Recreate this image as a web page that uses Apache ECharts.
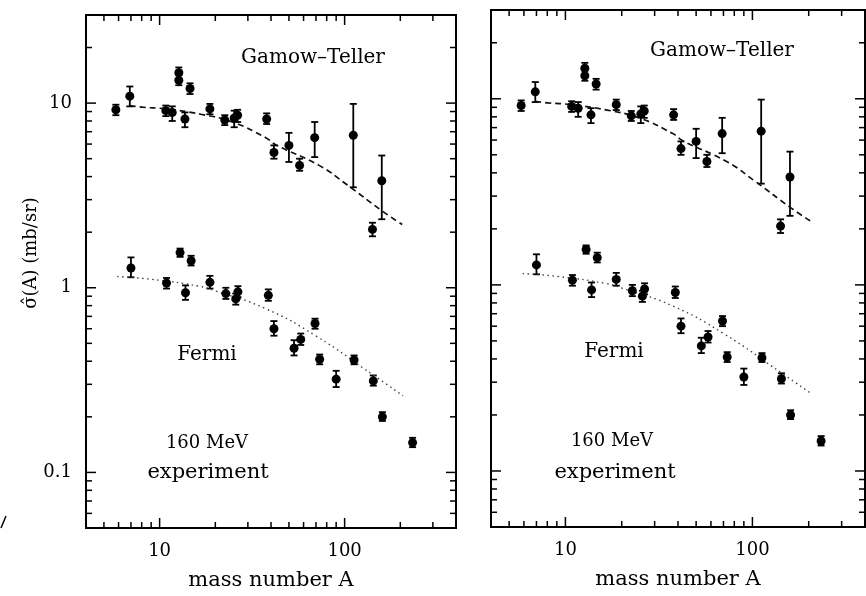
<!DOCTYPE html>
<html>
<head>
<meta charset="utf-8">
<script src="https://cdn.jsdelivr.net/npm/echarts@6/dist/echarts.min.js"></script>
<style>
html,body{margin:0;padding:0;background:#fff;}
#chart{width:866px;height:596px;}
</style>
</head>
<body>
<div id="chart"></div>
<script>
// ---------- data ----------
// Gamow-Teller points: mass number A, sigma, error low, error high
const gtA     = [5.8, 6.9, 10.8, 11.7, 12.7, 12.7, 14.6, 13.7, 18.7, 22.5, 25.3, 26.4, 37.9, 41.5, 50.0, 57.1, 68.9, 111.4, 158.8, 141.4];
const gtSigma = [9.2, 10.9, 9.1, 8.9, 14.6, 13.3, 12.0, 8.2, 9.3, 8.1, 8.3, 8.6, 8.2, 5.4, 5.9, 4.6, 6.5, 6.7, 3.8, 2.07];
const gtLow   = [8.6, 9.6, 8.5, 8.0, 13.5, 12.5, 11.2, 7.4, 8.7, 7.6, 7.4, 7.9, 7.7, 5.0, 4.8, 4.3, 5.1, 3.5, 2.35, 1.9];
const gtHigh  = [9.8, 12.3, 9.7, 9.6, 15.6, 14.2, 12.8, 8.9, 9.9, 8.6, 9.1, 9.2, 8.8, 5.9, 6.9, 5.0, 7.9, 9.9, 5.2, 2.25];

// Fermi points
const fA      = [7.0, 10.9, 12.9, 14.8, 13.8, 18.7, 22.8, 25.8, 26.5, 38.7, 41.5, 53.3, 57.9, 69.2, 73.3, 90.0, 112.5, 142.9, 160, 233];
const fSigma  = [1.28, 1.06, 1.55, 1.40, 0.94, 1.07, 0.93, 0.87, 0.95, 0.91, 0.60, 0.47, 0.525, 0.64, 0.41, 0.32, 0.406, 0.313, 0.200, 0.145];
const fLow    = [1.14, 0.99, 1.47, 1.32, 0.86, 0.99, 0.87, 0.81, 0.89, 0.85, 0.55, 0.43, 0.49, 0.60, 0.385, 0.29, 0.385, 0.295, 0.19, 0.137];
const fHigh   = [1.46, 1.13, 1.63, 1.49, 1.03, 1.16, 1.00, 0.93, 1.02, 0.98, 0.66, 0.52, 0.565, 0.68, 0.435, 0.355, 0.43, 0.335, 0.212, 0.154];

// model curves
const gtCurveA     = [6.9, 8.1, 10.8, 16.7, 24.7, 37.5, 42.4, 72.8, 103.5, 160, 205];
const gtCurveSigma = [9.7, 9.5, 9.3, 8.7, 7.9, 6.5, 5.95, 4.6, 3.6, 2.6, 2.2];
const fCurveA      = [5.9, 9.1, 16.3, 20.1, 37.5, 69.6, 147, 207];
const fCurveSigma  = [1.15, 1.11, 1.02, 0.96, 0.77, 0.55, 0.33, 0.26];

// ticks
const xMajorTicks = [10, 100];
const xTickLabels = ['10', '100'];
const xMinorTicks = [5, 6, 7, 8, 9, 20, 30, 40, 50, 60, 70, 80, 90, 200, 300];
const yMajorTicks = [0.1, 1, 10];
const yTickLabels = ['0.1', '1', '10'];
const yMinorTicks = [0.06, 0.07, 0.08, 0.09, 0.2, 0.3, 0.4, 0.5, 0.6, 0.7, 0.8, 0.9, 2, 3, 4, 5, 6, 7, 8, 9, 20];

// ---------- chart ----------
const X_MIN = 4, X_MAX = 400, Y_MIN = 0.05, Y_MAX = 30;
const FONT = '"DejaVu Serif", serif';
const INK = '#000';

function zip(a, b, c, d) { return a.map((v, i) => d ? [v, b[i], c[i], d[i]] : [v, b[i]]); }

function labelFor(v, ticks, labels) {
  for (let i = 0; i < ticks.length; i++) {
    if (Math.abs(Math.log10(v) - Math.log10(ticks[i])) < 1e-6) return labels[i];
  }
  return '';
}

function errRender(params, api) {
  const x = api.value(0), lo = api.value(2), hi = api.value(3);
  const p1 = api.coord([x, lo]), p2 = api.coord([x, hi]);
  const cap = 3.5;
  const st = { stroke: INK, lineWidth: 1.8 };
  return { type: 'group', children: [
    { type: 'line', shape: { x1: p1[0], y1: p1[1], x2: p2[0], y2: p2[1] }, style: st },
    { type: 'line', shape: { x1: p1[0] - cap, y1: p1[1], x2: p1[0] + cap, y2: p1[1] }, style: st },
    { type: 'line', shape: { x1: p2[0] - cap, y1: p2[1], x2: p2[0] + cap, y2: p2[1] }, style: st }
  ]};
}

function tickRender(params, api) {
  const v = api.value(0), k = api.value(1);
  const major = (k === 0 || k === 2);
  const len = major ? 10 : 6;
  const st = { stroke: INK, lineWidth: 1.5 };
  let a, b;
  if (k < 2) {
    a = api.coord([v, Y_MIN]); b = api.coord([v, Y_MAX]);
    return { type: 'group', children: [
      { type: 'line', shape: { x1: a[0], y1: a[1], x2: a[0], y2: a[1] - len }, style: st },
      { type: 'line', shape: { x1: b[0], y1: b[1], x2: b[0], y2: b[1] + len }, style: st }
    ]};
  } else {
    a = api.coord([X_MIN, v]); b = api.coord([X_MAX, v]);
    return { type: 'group', children: [
      { type: 'line', shape: { x1: a[0], y1: a[1], x2: a[0] + len, y2: a[1] }, style: st },
      { type: 'line', shape: { x1: b[0], y1: b[1], x2: b[0] - len, y2: b[1] }, style: st }
    ]};
  }
}

function tickData() {
  const d = [];
  xMajorTicks.forEach(v => d.push([v, 0]));
  xMinorTicks.forEach(v => d.push([v, 1]));
  yMajorTicks.forEach(v => d.push([v, 2]));
  yMinorTicks.forEach(v => d.push([v, 3]));
  return d;
}

function panelSeries(gi) {
  return [
    { type: 'custom', xAxisIndex: gi, yAxisIndex: gi, silent: true, clip: false,
      data: tickData(), encode: { x: 0, y: 0 }, renderItem: tickRender, z: 5 },
    { type: 'line', xAxisIndex: gi, yAxisIndex: gi, data: zip(gtCurveA, gtCurveSigma),
      showSymbol: false, smooth: true, silent: true,
      lineStyle: { color: '#111', width: 1.7, type: [6, 4] } },
    { type: 'line', xAxisIndex: gi, yAxisIndex: gi, data: zip(fCurveA, fCurveSigma),
      showSymbol: false, smooth: true, silent: true,
      lineStyle: { color: '#444', width: 1.4, type: [1.5, 3.5] } },
    { type: 'custom', xAxisIndex: gi, yAxisIndex: gi, silent: true,
      data: zip(gtA, gtSigma, gtLow, gtHigh), encode: { x: 0, y: 1 }, renderItem: errRender, z: 3 },
    { type: 'custom', xAxisIndex: gi, yAxisIndex: gi, silent: true,
      data: zip(fA, fSigma, fLow, fHigh), encode: { x: 0, y: 1 }, renderItem: errRender, z: 3 },
    { type: 'scatter', xAxisIndex: gi, yAxisIndex: gi, data: zip(gtA, gtSigma), symbol: 'circle',
      symbolSize: 9, itemStyle: { color: INK, opacity: 1 }, silent: true, z: 4 },
    { type: 'scatter', xAxisIndex: gi, yAxisIndex: gi, data: zip(fA, fSigma), symbol: 'circle',
      symbolSize: 9, itemStyle: { color: INK, opacity: 1 }, silent: true, z: 4 }
  ];
}

function xAxisCfg(gi) {
  return {
    type: 'log', logBase: 10, gridIndex: gi, min: X_MIN, max: X_MAX,
    axisLine: { show: false }, axisTick: { show: false }, splitLine: { show: false },
    axisLabel: { margin: 14, fontFamily: FONT, fontSize: 18, color: INK,
      showMinLabel: false, showMaxLabel: false,
      formatter: v => labelFor(v, xMajorTicks, xTickLabels) },
    name: 'mass number A', nameLocation: 'middle', nameGap: 42,
    nameTextStyle: { fontFamily: FONT, fontSize: 21, color: INK }
  };
}

function yAxisCfg(gi, showLabels) {
  return {
    type: 'log', logBase: 10, gridIndex: gi, min: Y_MIN, max: Y_MAX,
    axisLine: { show: false }, axisTick: { show: false }, splitLine: { show: false },
    axisLabel: { show: showLabels, margin: 14, fontFamily: FONT, fontSize: 18, color: INK,
      showMinLabel: false, showMaxLabel: false,
      formatter: v => labelFor(v, yMajorTicks, yTickLabels) }
  };
}

function txt(x, y, s, size) {
  return { type: 'text', x: x, y: y, style: { text: s, fontFamily: FONT, fontSize: size || 20,
    fill: INK, align: 'center', verticalAlign: 'middle' }, silent: true };
}

const option = {
  backgroundColor: '#fff',
  animation: false,
  grid: [
    { left: 86, top: 15, width: 370, height: 513, show: true, borderColor: INK, borderWidth: 2, backgroundColor: 'transparent' },
    { left: 491, top: 10, width: 374, height: 517, show: true, borderColor: INK, borderWidth: 2, backgroundColor: 'transparent' }
  ],
  xAxis: [xAxisCfg(0), xAxisCfg(1)],
  yAxis: [yAxisCfg(0, true), yAxisCfg(1, false)],
  series: panelSeries(0).concat(panelSeries(1)),
  graphic: [
    txt(313, 58, 'Gamow–Teller', 20),
    txt(207, 355, 'Fermi', 20),
    txt(207, 443, '160 MeV', 18),
    txt(208, 473, 'experiment', 21),
    txt(722, 51, 'Gamow–Teller', 20),
    txt(614, 352, 'Fermi', 20),
    txt(612, 441, '160 MeV', 18),
    txt(615, 473, 'experiment', 21),
    { type: 'text', x: 31, y: 253, rotation: Math.PI / 2,
      style: { text: 'σ̂(A) (mb/sr)', fontFamily: FONT, fontSize: 18, fill: INK,
        align: 'center', verticalAlign: 'middle' }, silent: true },
    { type: 'line', shape: { x1: 1, y1: 528, x2: 6, y2: 516 }, style: { stroke: INK, lineWidth: 1.5 }, silent: true }
  ]
};

const chart = echarts.init(document.getElementById('chart'), null, { renderer: 'canvas' });
chart.setOption(option);
</script>
</body>
</html>
